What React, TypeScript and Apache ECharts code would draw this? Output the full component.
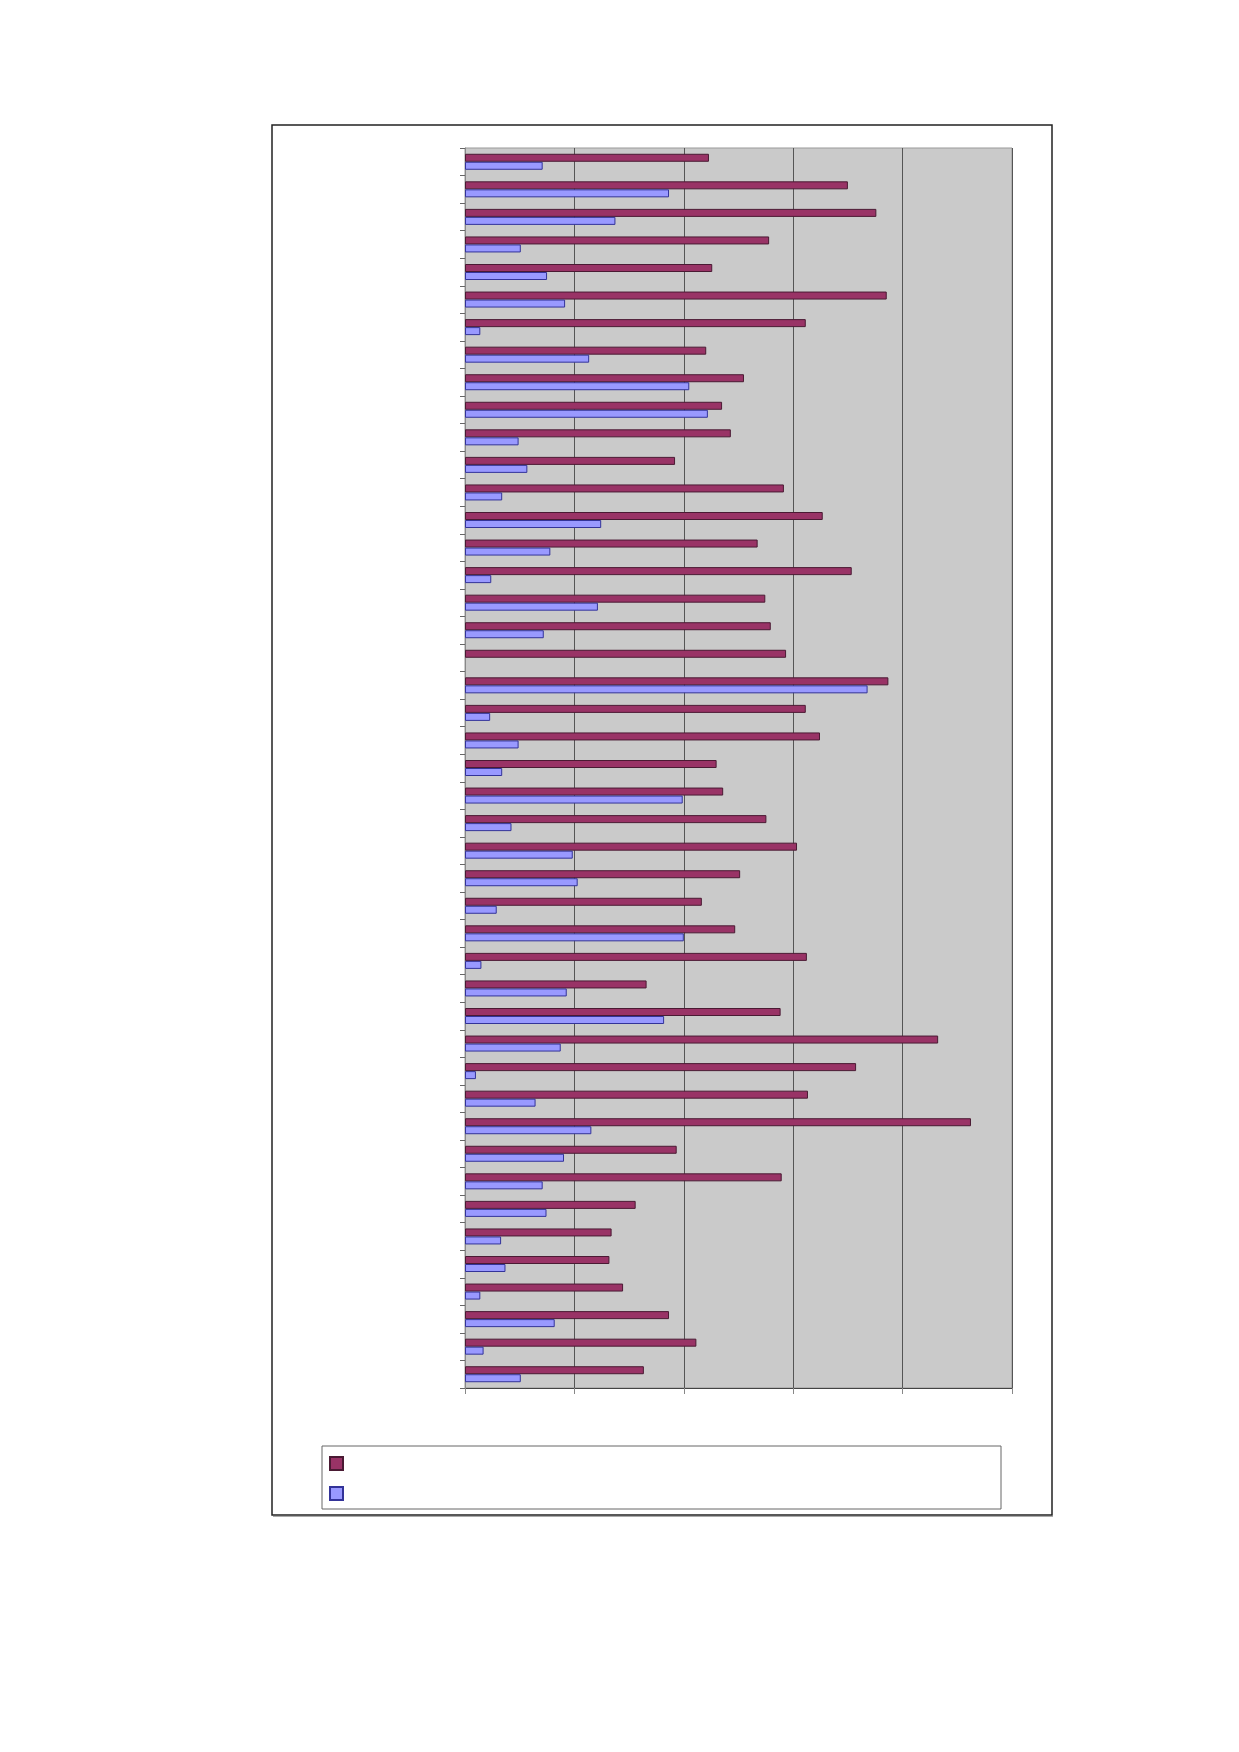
import React, { useEffect, useRef } from "react";
import * as echarts from "echarts";

const categories = [
  "1", "2", "3", "4", "5", "6", "7", "8", "9", "10",
  "11", "12", "13", "14", "15", "16", "17", "18", "19", "20",
  "21", "22", "23", "24", "25", "26", "27", "28", "29", "30",
  "31", "32", "33", "34", "35", "36", "37", "38", "39", "40",
  "41", "42", "43", "44", "45",
];

const seriesAValues = [
  44.6, 70.0, 75.2, 55.6, 45.2, 77.1, 62.3, 44.1, 51.0, 47.0,
  48.6, 38.4, 58.3, 65.4, 53.5, 70.7, 54.9, 55.9, 58.7, 77.4,
  62.3, 64.9, 46.0, 47.2, 55.1, 60.7, 50.3, 43.3, 49.4, 62.5,
  33.2, 57.7, 86.5, 71.5, 62.7, 92.5, 38.7, 57.9, 31.2, 26.8,
  26.4, 28.9, 37.3, 42.3, 32.7,
];

const seriesBValues = [
  14.2, 37.3, 27.5, 10.2, 15.0, 18.3, 2.8, 22.7, 41.0, 44.4,
  9.8, 11.4, 6.8, 24.9, 15.6, 4.8, 24.3, 14.4, null, 73.6,
  4.6, 9.8, 6.8, 39.8, 8.5, 19.7, 20.6, 5.8, 40.0, 3.0,
  18.6, 36.4, 17.5, 2.0, 12.9, 23.1, 18.1, 14.2, 14.9, 6.6,
  7.4, 2.8, 16.4, 3.4, 10.2,
];

const seriesNames = ["Serie 1", "Serie 2"];

const axisMin = 0;
const axisMax = 100;
const axisInterval = 20;

export default function App() {
  const ref = useRef<HTMLDivElement>(null);

  useEffect(() => {
    if (!ref.current) return;
    const chart = echarts.init(ref.current, null, { renderer: "svg" });
    chart.setOption({
      animation: false,
      backgroundColor: "#ffffff",
      graphic: [
        {
          type: "rect",
          shape: { x: 272, y: 125, width: 780, height: 1390 },
          style: { fill: "none", stroke: "#222222", lineWidth: 1.5 },
          z: 0,
        },
        {
          type: "line",
          shape: { x1: 273, y1: 1516.5, x2: 1053, y2: 1516.5 },
          style: { stroke: "#aaaaaa", lineWidth: 1 },
          z: 0,
        },
        {
          type: "rect",
          shape: { x: 322, y: 1446, width: 679, height: 63 },
          style: { fill: "#ffffff", stroke: "#666666", lineWidth: 1 },
          z: 1,
        },
      ],
      grid: {
        left: 465,
        top: 148,
        width: 547,
        height: 1240,
        show: true,
        backgroundColor: "#CACACA",
        borderColor: "#999999",
        borderWidth: 1,
      },
      legend: {
        show: true,
        orient: "vertical",
        left: 329,
        top: 1456,
        itemWidth: 13,
        itemHeight: 13,
        itemGap: 15,
        padding: 0,
        icon: "rect",
        formatter: () => "",
        textStyle: { fontSize: 10 },
        data: seriesNames,
        z: 5,
      },
      xAxis: {
        type: "value",
        min: axisMin,
        max: axisMax,
        interval: axisInterval,
        axisLine: { show: true, lineStyle: { color: "#444444", width: 1 } },
        axisTick: { show: true, length: 6, lineStyle: { color: "#888888" } },
        axisLabel: { show: false },
        splitLine: { show: true, lineStyle: { color: "#555555", width: 1 } },
      },
      yAxis: {
        type: "category",
        data: categories,
        inverse: true,
        axisLine: { show: true, lineStyle: { color: "#888888", width: 1 } },
        axisTick: { show: true, length: 5, lineStyle: { color: "#666666" } },
        axisLabel: { show: false },
        splitLine: { show: false },
      },
      series: [
        {
          name: seriesNames[0],
          type: "bar",
          data: seriesAValues,
          barWidth: 8,
          barGap: "0%",
          itemStyle: { color: "#993366", borderColor: "#4a1a33", borderWidth: 1 },
        },
        {
          name: seriesNames[1],
          type: "bar",
          data: seriesBValues,
          barWidth: 8,
          barGap: "0%",
          itemStyle: { color: "#9999FF", borderColor: "#333399", borderWidth: 1 },
        },
      ],
    });
    return () => chart.dispose();
  }, []);

  return (
    <div
      ref={ref}
      style={{ position: "absolute", left: 0, top: 0, width: 1239, height: 1752 }}
    />
  );
}
